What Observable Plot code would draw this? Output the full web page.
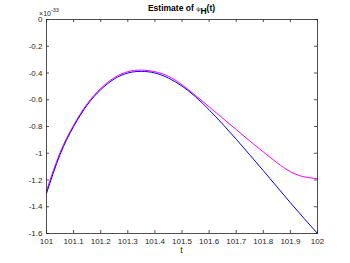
<!DOCTYPE html>
<html><head><meta charset="utf-8">
<script src="https://cdn.jsdelivr.net/npm/d3@7"></script>
<script src="https://cdn.jsdelivr.net/npm/@observablehq/plot@0.6"></script>
<style>body{margin:0;background:#fff}svg{display:block}</style>
</head><body><div id="chart"></div>
<script>
const tValues = [101.00,101.05,101.10,101.15,101.20,101.25,101.30,101.35,101.40,101.45,101.50,101.55,101.60,101.65,101.70,101.75,101.80,101.85,101.90,101.95,102.00];
const blueValues = [-1.30,-1.01,-0.80,-0.64,-0.525,-0.445,-0.40,-0.388,-0.40,-0.438,-0.498,-0.578,-0.675,-0.782,-0.895,-1.012,-1.13,-1.25,-1.37,-1.486,-1.60];
const magentaValues = [-1.28,-0.995,-0.79,-0.63,-0.515,-0.435,-0.39,-0.378,-0.39,-0.425,-0.488,-0.568,-0.653,-0.738,-0.823,-0.908,-0.99,-1.07,-1.138,-1.176,-1.19];
const xTicks = [101,101.1,101.2,101.3,101.4,101.5,101.6,101.7,101.8,101.9,102];
const yTicks = [0,-0.2,-0.4,-0.6,-0.8,-1,-1.2,-1.4,-1.6];

const W = 350, H = 263, mL = 46, mR = 33, mT = 19, mB = 30;
const fw = W - mL - mR, fh = H - mT - mB, tk = 3;
const blue = tValues.map((t, i) => ({t, v: blueValues[i]}));
const magenta = tValues.map((t, i) => ({t, v: magentaValues[i]}));
const axisColor = "#262626";
const font = "'Liberation Sans', Arial, sans-serif";

const plot = Plot.plot({
  width: W, height: H,
  marginLeft: mL, marginRight: mR, marginTop: mT, marginBottom: mB,
  style: {fontFamily: font, fontSize: "8px", color: axisColor, background: "#fff"},
  x: {domain: [101, 102], ticks: xTicks, tickSize: 0, tickPadding: 5, tickFormat: d => String(d), label: null},
  y: {domain: [-1.6, 0], ticks: yTicks, tickSize: 0, tickPadding: 4, tickFormat: d => String(d), label: null},
  marks: [
    Plot.line(magenta, {x: "t", y: "v", stroke: "#ff00ff", strokeWidth: 1, curve: "natural"}),
    Plot.line(blue, {x: "t", y: "v", stroke: "#0000ff", strokeWidth: 1, curve: "natural"}),
    Plot.tickX(xTicks, {x: d => d, insetTop: fh - tk, stroke: axisColor, strokeWidth: 0.8}),
    Plot.tickX(xTicks, {x: d => d, insetBottom: fh - tk, stroke: axisColor, strokeWidth: 0.8}),
    Plot.tickY(yTicks, {y: d => d, insetRight: fw - tk, stroke: axisColor, strokeWidth: 0.8}),
    Plot.tickY(yTicks, {y: d => d, insetLeft: fw - tk, stroke: axisColor, strokeWidth: 0.8}),
    Plot.frame({stroke: axisColor, strokeWidth: 0.8})
  ]
});

const svg = d3.select(plot);

// x label
svg.append("text")
  .attr("x", mL + fw / 2).attr("y", 253)
  .attr("text-anchor", "middle")
  .style("font-family", font).style("font-size", "9px").attr("fill", axisColor)
  .text("t");

// title
const title = svg.append("text")
  .attr("x", mL + fw / 2).attr("y", 11)
  .attr("text-anchor", "middle")
  .style("font-family", font)
  .style("font-weight", "bold").style("font-size", "8.5px").attr("fill", "#000");
title.append("tspan").text("Estimate of ");
title.append("tspan").style("font-size", "6px").style("font-weight", "normal").text("ψ");
title.append("tspan").attr("dy", 3).text("H");
title.append("tspan").attr("dy", -3).text("(t)");

// exponent label
const ex = svg.append("text")
  .attr("x", mL + 3).attr("y", 16)
  .style("font-family", font)
  .style("font-size", "7px").attr("fill", axisColor);
ex.append("tspan").text("×10");
ex.append("tspan").attr("dy", -4).style("font-size", "5.5px").text("-33");

document.getElementById("chart").append(plot);
</script></body></html>
